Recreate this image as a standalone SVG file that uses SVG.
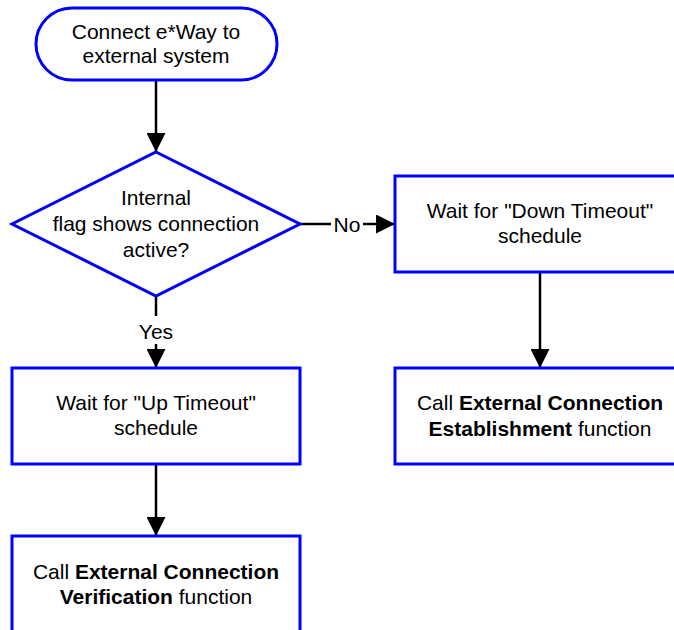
<svg xmlns="http://www.w3.org/2000/svg" width="674" height="630" viewBox="0 0 674 630">
<style>
.shape{fill:#fff;stroke:#0000ff;stroke-width:3}
.t{font-family:"Liberation Sans",Arial,sans-serif;font-size:21px;fill:#000;text-anchor:middle}
.b{font-weight:bold}
.c{stroke:#000;stroke-width:2.5;fill:none}
.lbg{fill:#fff;stroke:none}
</style>
<defs>
<marker id="ah" viewBox="0 0 10 10" refX="10" refY="5" markerWidth="7.6" markerHeight="7.6" markerUnits="strokeWidth" orient="auto">
<path d="M0,0 L10,5 L0,10 z" fill="#000"/>
</marker>
</defs>
<rect width="674" height="630" fill="#fff"/>
<g id="connectors">
<path class="c" d="M156,80 V152" marker-end="url(#ah)"/>
<path class="c" d="M300,224 H395" marker-end="url(#ah)"/>
<path class="c" d="M156,296 V368" marker-end="url(#ah)"/>
<path class="c" d="M540,272 V368" marker-end="url(#ah)"/>
<path class="c" d="M156,464 V536" marker-end="url(#ah)"/>
<rect class="lbg" x="331" y="212" width="32" height="24"/>
<text class="t" x="347" y="232">No</text>
<rect class="lbg" x="138" y="316" width="36" height="28"/>
<text class="t" x="156" y="339">Yes</text>
</g>
<g id="start">
<rect class="shape" x="36" y="8" width="241" height="72" rx="36" ry="36"/>
<text class="t" x="156" y="39">Connect e*Way to</text>
<text class="t" x="156" y="63">external system</text>
</g>
<g id="decision">
<polygon class="shape" points="156,152 300,224 156,296 12,224"/>
<text class="t" x="156" y="205">Internal</text>
<text class="t" x="156" y="231">flag shows connection</text>
<text class="t" x="156" y="257">active?</text>
</g>
<g id="wait-down">
<rect class="shape" x="395" y="176" width="300" height="96"/>
<text class="t" x="540" y="218">Wait for "Down Timeout"</text>
<text class="t" x="540" y="243">schedule</text>
</g>
<g id="call-establish">
<rect class="shape" x="395" y="368" width="300" height="96"/>
<text class="t" x="540" y="410">Call <tspan class="b">External Connection</tspan></text>
<text class="t" x="540" y="436"><tspan class="b">Establishment</tspan> function</text>
</g>
<g id="wait-up">
<rect class="shape" x="12" y="368" width="288" height="96"/>
<text class="t" x="156" y="410">Wait for "Up Timeout"</text>
<text class="t" x="156" y="435">schedule</text>
</g>
<g id="call-verify">
<rect class="shape" x="12" y="536" width="288" height="110"/>
<text class="t" x="156" y="579">Call <tspan class="b">External Connection</tspan></text>
<text class="t" x="156" y="604"><tspan class="b">Verification</tspan> function</text>
</g>
</svg>
